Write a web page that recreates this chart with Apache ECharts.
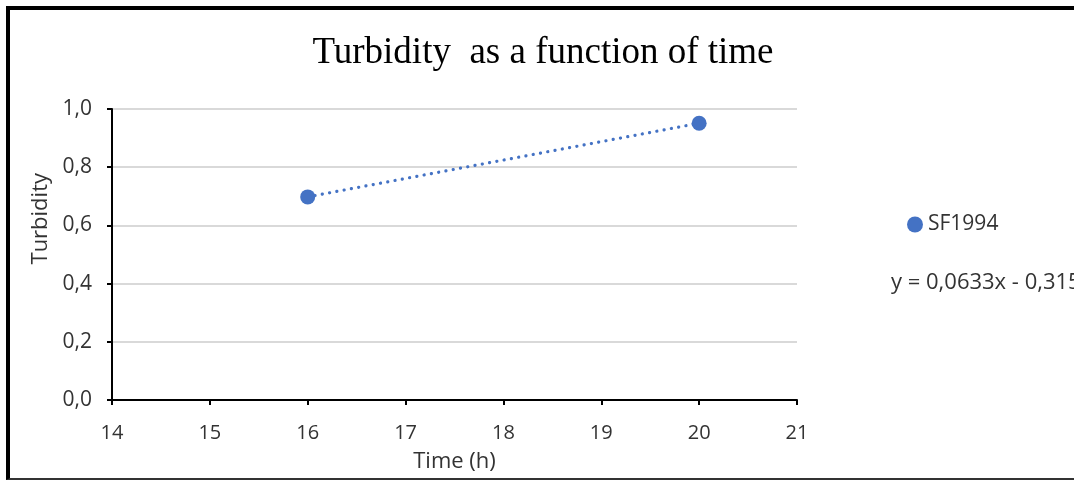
<!DOCTYPE html>
<html>
<head>
<meta charset="utf-8">
<script src="https://cdn.jsdelivr.net/npm/echarts@6/dist/echarts.min.js"></script>
<style>
html,body{margin:0;padding:0;background:#fff;}
#frame{position:absolute;left:6px;top:6px;width:1068px;height:474px;border-left:4px solid #000;border-top:4px solid #000;border-bottom:2px solid #333;box-sizing:border-box;}
#chart{position:absolute;left:0;top:0;width:1074px;height:481px;}
</style>
</head>
<body>
<div id="chart"></div>
<div id="frame"></div>
<script>
const titleText = 'Turbidity  as a function of time';
const seriesName = 'SF1994';
const timeValues = [16, 20];
const turbidityValues = [0.698, 0.951];
const xTicks = [14, 15, 16, 17, 18, 19, 20, 21];
const yTicks = [0, 0.2, 0.4, 0.6, 0.8, 1.0];
const equationText = 'y = 0,0633x - 0,315';

const pts = timeValues.map((t, i) => [t, turbidityValues[i]]);
const blue = '#4472C4';
const font = 'Open Sans, Liberation Sans, sans-serif';
const txt = '#333333';

const chart = echarts.init(document.getElementById('chart'), null, {renderer: 'canvas'});
chart.setOption({
  animation: false,
  backgroundColor: '#fff',
  title: {
    text: titleText,
    left: 538, top: 30, textAlign: 'center',
    textStyle: {fontFamily: 'Liberation Serif, Times New Roman, serif', fontSize: 37, fontWeight: 'normal', color: '#000'}
  },
  grid: {left: 112, right: 1074 - 797, top: 109, bottom: 481 - 400, containLabel: false, outerBoundsMode: 'none'},
  xAxis: {
    type: 'value', min: xTicks[0], max: xTicks[xTicks.length - 1], interval: 1,
    name: 'Time (h)', nameLocation: 'middle', nameGap: 51,
    nameTextStyle: {fontFamily: font, fontSize: 22, color: txt},
    axisLine: {show: true, lineStyle: {color: '#000', width: 2}},
    axisTick: {show: true, length: 5, lineStyle: {color: '#000', width: 2}},
    axisLabel: {fontFamily: font, fontSize: 20, color: txt, margin: 23},
    splitLine: {show: false}
  },
  yAxis: {
    type: 'value', min: yTicks[0], max: yTicks[yTicks.length - 1], interval: 0.2,
    axisLine: {show: true, lineStyle: {color: '#000', width: 2}},
    axisTick: {show: true, length: 5, lineStyle: {color: '#000', width: 2}},
    axisLabel: {fontFamily: font, fontSize: 21, color: txt, margin: 20,
      formatter: v => v.toFixed(1).replace('.', ',')},
    splitLine: {show: true, lineStyle: {color: '#d9d9d9', width: 2}}
  },
  legend: {
    data: [{name: seriesName, icon: 'circle'}],
    left: 902, top: 209, itemWidth: 16, itemHeight: 16, itemGap: 4,
    textStyle: {fontFamily: font, fontSize: 21, color: txt}
  },
  graphic: [
    {type: 'text', left: 30, top: 173, rotation: Math.PI / 2,
      style: {text: 'Turbidity', fontFamily: font, fontSize: 22, fill: txt}},
    {type: 'text', left: 891, top: 272,
      style: {text: equationText, fontFamily: font, fontSize: 22, fill: txt}}
  ],
  series: [
    {
      name: 'trend', type: 'line', data: pts, showSymbol: false, symbol: 'none',
      lineStyle: {color: blue, width: 3.2, type: [0.1, 7.3], cap: 'round'}, z: 2, silent: true
    },
    {
      name: seriesName, type: 'scatter', data: pts, symbol: 'circle', symbolSize: 15,
      itemStyle: {color: blue, opacity: 1}, z: 3
    }
  ]
});
</script>
</body>
</html>
